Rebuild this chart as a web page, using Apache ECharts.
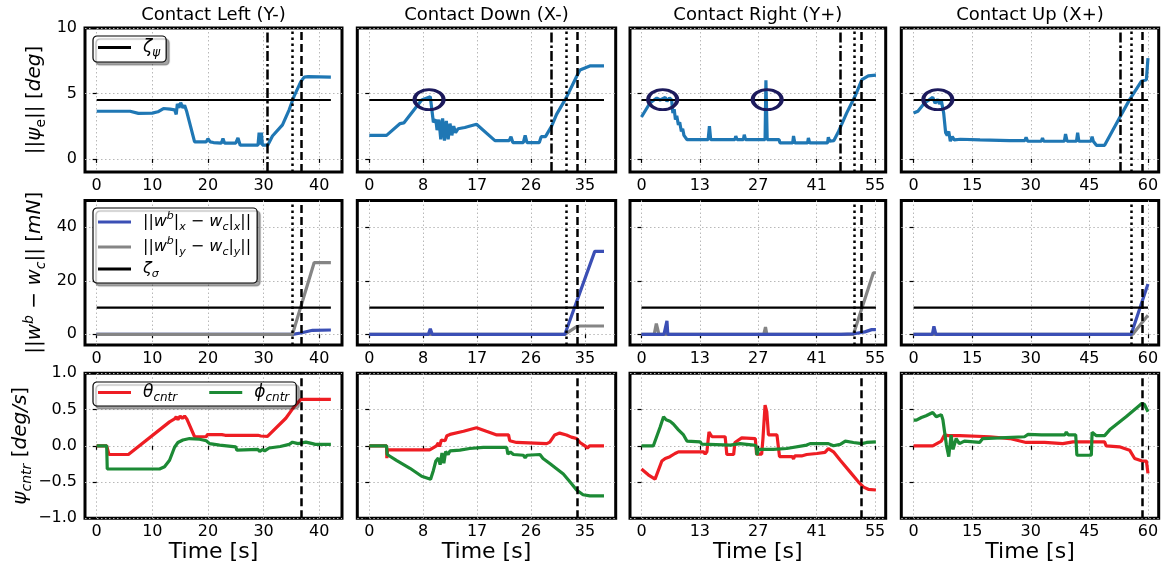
<!DOCTYPE html>
<html><head><meta charset="utf-8">
<script src="https://cdn.jsdelivr.net/npm/echarts@6/dist/echarts.min.js"></script>
<style>html,body{margin:0;padding:0;background:#fff}#c{width:1173px;height:574px}</style>
</head><body><div id="c"></div>
<script>
// ---------------- data ----------------
const colTitles = ['Contact Left (Y-)', 'Contact Down (X-)', 'Contact Right (Y+)', 'Contact Up (X+)'];
const xTicks = [[0,10,20,30,40],[0,8.75,17.5,26.25,35],[0,13.75,27.5,41.25,55],[0,15,30,45,60]];
const xTickLabels = [['0','10','20','30','40'],['0','8','17','26','35'],['0','13','27','41','55'],['0','15','30','45','60']];
const xMin = [-2.1, -1.95, -2.7, -3.15];
const xMax = [44.1, 40.0, 57.5, 62.75];
const yTicks = [[0,5,10],[0,20,40],[-1,-0.5,0,0.5,1]];
const yTickLabels = [['0','5','10'],['0','20','40'],['\u22121.0','\u22120.5','0.0','0.5','1.0']];
const yMin = [-1, -4, -1];
const yMax = [10, 50, 1];
const dataEnd = [42.1, 38.1, 55.2, 60];
const zetaPsi = 4.5;
const zetaSigma = 10;
const vDashDot = [30.75, 29.6, 46.75, 52.8];
const vDotted = [35.1, 31.9, 50.1, 55.6];
const vDashed = [36.8, 33.7, 51.85, 58.5];
const circlesD = [[9.7, 4.53]];
const circlesR = [[5.0, 4.53], [29.6, 4.53]];
const circlesU = [[6.2, 4.53]];

// ||psi_e|| [deg]
const psiL = [[0,3.64],[6,3.64],[7.5,3.48],[10,3.5],[11,3.6],[12,3.85],[13.2,3.8],[14,3.75],[14.3,3.4],[14.5,4.2],[14.8,3.9],[15.1,4.3],[15.5,3.9],[15.8,4.1],[16.2,3.6],[17.6,1.3],[19.7,1.3],[20,1.55],[20.4,1.3],[21,1.25],[21.2,1.2],[22.4,1.2],[22.7,1.55],[23,1.2],[25,1.2],[25.4,1.6],[25.8,1.05],[29,1.05],[29.2,2.0],[29.4,1.1],[29.6,2.0],[29.8,1.05],[30.75,1.05],[31.6,1.75],[33.4,2.6],[34.6,3.75],[35.5,4.8],[36.7,5.9],[37.3,6.25],[38,6.28],[42.1,6.25]];
const psiD = [[0,1.8],[2.8,1.8],[5,2.7],[5.6,2.75],[8.5,4.5],[9.9,4.75],[10.2,4.7],[10.4,2.8],[10.8,3.0],[11.0,2.2],[11.3,3.0],[11.6,1.5],[11.9,3.1],[12.2,1.4],[12.5,2.9],[12.8,1.5],[13.1,2.7],[13.4,1.8],[13.7,2.5],[14.0,2.0],[14.4,2.3],[15.5,2.4],[17.4,2.65],[20.4,1.4],[22.7,1.4],[23.0,1.7],[23.3,1.25],[25.0,1.25],[25.3,1.8],[25.6,1.25],[27.6,1.25],[27.9,1.7],[28.2,1.6],[28.6,1.7],[29.6,2.5],[30.4,3.4],[32,4.7],[33.65,6.3],[34.2,6.8],[35.8,7.1],[38.1,7.1]];
const psiR = [[0,3.2],[2,4.27],[3.6,4.65],[4.4,4.5],[5.6,4.7],[6,4.4],[6.6,4.65],[7.1,4.5],[7.4,3.5],[7.7,3.8],[8.0,3.0],[8.3,3.3],[8.7,2.6],[9.0,2.8],[9.4,2.1],[9.7,2.3],[10.0,1.8],[10.7,1.48],[15.7,1.48],[16.0,2.5],[16.3,1.48],[22,1.48],[22.2,1.75],[22.5,1.48],[24,1.48],[24.2,1.85],[24.5,1.48],[29.1,1.48],[29.3,6.0],[29.6,1.48],[32.4,1.48],[32.6,1.22],[35.6,1.22],[35.8,1.75],[36.1,1.22],[39.1,1.22],[39.3,1.6],[39.6,1.22],[43.8,1.22],[44,1.65],[44.3,1.35],[45.3,1.4],[46.4,2.1],[48.3,3.5],[50.3,4.8],[51.9,6.05],[53.4,6.35],[55.2,6.4]];
const psiU = [[0,3.5],[1.1,3.64],[2.8,4.27],[4.9,4.7],[5.5,4.25],[6.2,4.55],[6.6,4.2],[7.1,4.45],[7.7,3.5],[8.2,2.0],[8.6,1.8],[9.0,2.1],[9.4,1.35],[9.9,1.7],[10.4,1.45],[12,1.5],[17,1.45],[24.6,1.4],[28.5,1.4],[28.8,1.65],[29.2,1.35],[32.7,1.35],[33,1.6],[33.3,1.35],[38.6,1.35],[38.9,1.9],[39.3,1.35],[41.7,1.35],[42,2.0],[42.3,1.35],[45.4,1.35],[45.7,1.7],[46,1.35],[46.8,1.04],[48.9,1.04],[52.7,3.13],[55.3,4.53],[58.3,5.93],[59.6,6.05],[60,7.7]];

// ||w^b - w_c|| [mN]
const wxL = [[0,0],[35.2,0],[36.7,0.5],[38.8,1.5],[42.1,1.6]];
const wyL = [[0,0],[35.2,0],[39.1,26.8],[42.1,26.8]];
const wxD = [[0,0],[9.6,0],[9.9,2.1],[10.2,0],[31.75,0],[36.6,31],[38.1,31]];
const wyD = [[0,0],[31.75,0],[33.6,2.8],[34.2,3.1],[38.1,3.1]];
const wxR = [[0,0],[5.3,0],[6.0,5],[6.2,0],[47,0],[50,0.2],[52.6,0.9],[54.2,1.75],[55.2,1.75]];
const wyR = [[0,0],[3.0,0],[3.5,4],[3.9,4],[4.1,0],[28.8,0],[29.2,2.7],[29.5,0],[49.9,0],[54.6,23],[55.2,23]];
const wxU = [[0,0],[4.8,0],[5.2,3],[5.5,3],[5.7,0],[55.7,0],[60,18.8]];
const wyU = [[0,0],[56.1,0],[60,7.1]];

// psi_cntr [deg/s]
const thL = [[0,0],[1.8,0],[2.2,-0.12],[5.7,-0.12],[13.1,0.33],[14,0.37],[14.3,0.4],[14.6,0.36],[15,0.41],[15.4,0.38],[15.8,0.41],[16.2,0.37],[17.6,0.125],[19.7,0.125],[19.9,0.155],[22.5,0.155],[22.8,0.165],[23.1,0.145],[29,0.145],[29.2,0.17],[29.5,0.135],[30.7,0.13],[34,0.38],[35.5,0.54],[36.7,0.64],[42.1,0.64]];
const phL = [[0,0],[1.8,0],[1.9,-0.32],[11.3,-0.32],[12.2,-0.29],[13.1,-0.2],[14,-0.02],[14.6,0.045],[15.5,0.08],[16.7,0.1],[18.5,0.09],[19.7,0.07],[20.3,0.03],[22.1,0.01],[22.4,-0.015],[25,-0.015],[25.2,-0.06],[29,-0.05],[29.3,-0.08],[29.8,-0.05],[30.2,-0.07],[31,-0.03],[33,-0.01],[34.6,0.02],[35.2,0.05],[36.2,0.03],[37.6,0.05],[38.8,0.03],[39.3,0.02],[42.1,0.02]];
const thD = [[0,0],[2.8,0],[2.85,-0.17],[2.95,-0.055],[9.8,-0.055],[10.9,0],[11.2,0.04],[11.4,-0.01],[11.7,0.08],[12,0.1],[12.3,0.07],[12.6,0.14],[13.1,0.157],[15.3,0.2],[17.4,0.25],[19,0.2],[20.7,0.15],[22.6,0.15],[22.8,0.07],[23.9,0.046],[28.8,0.03],[29.3,0.05],[30.1,0.15],[30.9,0.175],[32,0.15],[32.8,0.12],[33.65,0.1],[34.2,0.046],[35,0],[35.4,-0.03],[35.8,0],[38.1,0]];
const phD = [[0,0],[2.8,0],[2.9,-0.12],[4.4,-0.2],[6.6,-0.31],[8.5,-0.42],[9.95,-0.46],[10.4,-0.34],[10.8,-0.21],[11.2,-0.17],[11.5,-0.26],[11.8,-0.1],[12.1,-0.24],[12.4,-0.08],[12.8,-0.12],[13.1,-0.07],[14.7,-0.06],[16.3,-0.037],[18.5,-0.023],[22.3,-0.023],[22.5,-0.115],[22.9,-0.085],[23.4,-0.12],[25,-0.13],[25.3,-0.165],[25.6,-0.13],[27.7,-0.12],[28.2,-0.175],[29.3,-0.245],[31.5,-0.39],[32.8,-0.52],[33.65,-0.61],[34.7,-0.675],[35.8,-0.69],[38.1,-0.69]];
const thR = [[0,-0.32],[1.6,-0.4],[3.2,-0.46],[3.6,-0.44],[4.8,-0.21],[5.6,-0.175],[6.7,-0.15],[7.9,-0.106],[8.7,-0.083],[14.6,-0.083],[15,-0.115],[15.4,-0.083],[15.9,0.19],[16.6,0.125],[19.7,0.125],[20.1,-0.12],[21.7,-0.12],[22,0.046],[23.6,0.11],[26.8,0.1],[27.1,-0.115],[28.3,-0.115],[28.6,0.1],[29.1,0.56],[29.5,0.47],[29.9,0.15],[31.9,0.15],[32.5,-0.15],[35.5,-0.15],[35.8,-0.18],[36.1,-0.14],[37.7,-0.14],[38.9,-0.12],[41.3,-0.106],[43.2,-0.09],[44,-0.04],[45.2,-0.083],[46.8,-0.2],[49.1,-0.36],[51.1,-0.5],[52.3,-0.57],[53.4,-0.6],[55.2,-0.61]];
const phR = [[0,0],[2.8,0],[4.4,0.26],[5.2,0.4],[5.8,0.36],[6.7,0.34],[7.5,0.3],[8.7,0.22],[9.9,0.15],[10.7,0.065],[13.8,0.055],[14.2,0.023],[20.9,0.01],[23.2,0.03],[26.4,0.01],[27,0],[27.2,-0.13],[27.5,-0.05],[31,-0.05],[34.2,-0.037],[38.9,0.01],[39.7,0.03],[44,0.03],[45.2,0],[46.8,0.02],[48,0.065],[49.9,0.046],[51.9,0.03],[53,0.046],[55.2,0.055]];
const thU = [[0,0],[4.9,0],[7.1,0.065],[7.9,0.15],[8.8,0.14],[11.8,0.14],[19.5,0.125],[24.6,0.1],[28.8,0.046],[33.5,0.046],[33.8,0.03],[38.2,0.03],[40.8,0.055],[48.9,0.055],[49.3,0],[52.7,-0.014],[55.3,-0.06],[56.6,-0.175],[58.5,-0.21],[59.6,-0.21],[60,-0.38]];
const phU = [[0,0.355],[0.7,0.355],[2,0.39],[3.2,0.415],[4.9,0.46],[5.8,0.4],[7.1,0.43],[7.5,0.36],[8.4,0.01],[9,-0.15],[9.6,0.15],[10.1,-0.05],[10.9,0.1],[11.7,0.03],[13,0.065],[16.9,0.046],[17.7,0.1],[22,0.11],[28.4,0.125],[29.3,0.157],[29.8,0.14],[32.7,0.15],[38.7,0.15],[39.1,0.19],[39.6,0.15],[41.5,0.15],[41.8,-0.13],[45.5,-0.13],[45.7,0.185],[46.8,0.14],[48.9,0.14],[50.2,0.22],[54.4,0.4],[58.5,0.586],[59.1,0.57],[60,0.47]];

const psiSeries = [psiL, psiD, psiR, psiU];
const wxSeries = [wxL, wxD, wxR, wxU];
const wySeries = [wyL, wyD, wyR, wyU];
const thSeries = [thL, thD, thR, thU];
const phSeries = [phL, phD, phR, phU];
const circleSeries = [[], circlesD, circlesR, circlesU];

// ---------------- layout / style ----------------
const FONT = 'DejaVu Sans';
const gridLeft = [85, 357.3, 630, 901.3];
const gridWidth = [257, 258.4, 255.7, 257.4];
const gridTop = [28, 200.5, 373.3];
const gridHeight = [144, 144.5, 145];
const C_BLUE = '#1f77b4', C_BLUE2 = '#3b4fb5', C_GRAY = '#858585', C_RED = '#ee1d23', C_GREEN = '#1c8a35', C_NAVY = '#1c1a5c';
const DASHDOT = [10, 3, 2.5, 3], DOTTED = [2.5, 3.5], DASHED = [8, 4];

const richBase = (fs) => ({
  n: {fontSize: fs, fontFamily: FONT, lineHeight: fs + 6, color: '#000'},
  i: {fontSize: fs, fontFamily: FONT, fontStyle: 'italic', lineHeight: fs + 6, color: '#000'},
  sub: {fontSize: Math.round(fs * 0.7), fontFamily: FONT, fontStyle: 'italic', verticalAlign: 'bottom', lineHeight: Math.round(fs * 0.75), color: '#000'},
  subn: {fontSize: Math.round(fs * 0.7), fontFamily: FONT, verticalAlign: 'bottom', lineHeight: Math.round(fs * 0.75), color: '#000'},
  sup: {fontSize: Math.round(fs * 0.7), fontFamily: FONT, fontStyle: 'italic', verticalAlign: 'top', lineHeight: Math.round(fs * 0.75), color: '#000'},
  gap: {width: 7, fontSize: fs}
});

const yNames = [
  '{n|||}{i|\u03c8}{subn|e}{n||| [}{i|deg}{n|]}',
  '{n|||}{i|w}{sup|b}{n| \u2212 }{i|w}{sub|c}{n||| [}{i|mN}{n|]}',
  '{i|\u03c8}{sub|cntr}{n| [}{i|deg/s}{n|]}'
];
const yNameGap = [37, 37, 51];

const legendText = {
  zpsi: '{gap| }{i|\u03b6}{sub|\u03c8}',
  wx: '{gap| }{n|||}{i|w}{sup|b}{n||}{sub|x}{n| \u2212 }{i|w}{sub|c}{n||}{sub|x}{n|||}',
  wy: '{gap| }{n|||}{i|w}{sup|b}{n||}{sub|y}{n| \u2212 }{i|w}{sub|c}{n||}{sub|y}{n|||}',
  zsig: '{gap| }{i|\u03b6}{sub|\u03c3}',
  th: '{gap| }{i|\u03b8}{sub|cntr}',
  ph: '{gap| }{i|\u03d5}{sub|cntr}'
};

const grids = [], xAxes = [], yAxes = [], series = [];

function labelFor(list, vals, v) {
  for (let k = 0; k < vals.length; k++) if (Math.abs(vals[k] - v) < 1e-6) return list[k];
  return '';
}
function vmark(list) {
  return {
    silent: true, symbol: ['none', 'none'], label: {show: false},
    lineStyle: {color: '#000', width: 2.5},
    emphasis: {disabled: true},
    data: list
  };
}
function lineSeries(name, g, data, color, width, z, extra) {
  return Object.assign({
    name, type: 'line', xAxisIndex: g, yAxisIndex: g, data, color,
    showSymbol: false, symbol: 'none', z: z || 2,
    lineStyle: {color, width: width || 3},
    emphasis: {disabled: true}
  }, extra || {});
}

for (let r = 0; r < 3; r++) {
  for (let c = 0; c < 4; c++) {
    const g = r * 4 + c;
    grids.push({left: gridLeft[c], top: gridTop[r], width: gridWidth[c], height: gridHeight[r],
      show: true, borderColor: '#000', borderWidth: 3, backgroundColor: 'transparent', containLabel: false});
    xAxes.push({
      type: 'value', gridIndex: g, min: xMin[c], max: xMax[c],
      axisLine: {show: false},
      axisTick: {show: true, customValues: xTicks[c], length: 4, lineStyle: {color: '#000', width: 1.2}},
      axisLabel: {show: true, customValues: xTicks[c], fontSize: 16, fontFamily: FONT, color: '#000', margin: 6,
        formatter: (v) => labelFor(xTickLabels[c], xTicks[c], v)},
      splitLine: {show: true, lineStyle: {type: [1.5, 2.5], color: '#b8b8b8', width: 1}},
      name: r === 2 ? 'Time [s]' : '', nameLocation: 'middle', nameGap: 23,
      nameTextStyle: {fontSize: 22, fontFamily: FONT, color: '#000', verticalAlign: 'top'}
    });
    yAxes.push({
      type: 'value', gridIndex: g, min: yMin[r], max: yMax[r],
      axisLine: {show: false},
      axisTick: {show: true, customValues: yTicks[r], length: 4, lineStyle: {color: '#000', width: 1.2}},
      axisLabel: {show: c === 0, customValues: yTicks[r], fontSize: 16, fontFamily: FONT, color: '#000', margin: 8,
        formatter: (v) => labelFor(yTickLabels[r], yTicks[r], v)},
      splitLine: {show: true, lineStyle: {type: [1.5, 2.5], color: '#b8b8b8', width: 1}},
      name: c === 0 ? yNames[r] : '', nameLocation: 'middle', nameGap: yNameGap[r], nameRotate: 90,
      nameTextStyle: {fontSize: 20, fontFamily: FONT, color: '#000', rich: richBase(20)}
    });

    if (r === 0) {
      series.push(lineSeries('psi' + c, g, psiSeries[c], C_BLUE, 3.2, 2));
      series.push(lineSeries(c === 0 ? 'zpsi' : 'zpsi' + c, g, [[0, zetaPsi], [dataEnd[c], zetaPsi]], '#000', 2.2, 3, {
        markLine: vmark([
          {xAxis: vDashDot[c], lineStyle: {type: DASHDOT}},
          {xAxis: vDotted[c], lineStyle: {type: DOTTED}},
          {xAxis: vDashed[c], lineStyle: {type: DASHED}}
        ])
      }));
      if (circleSeries[c].length) {
        series.push({type: 'scatter', xAxisIndex: g, yAxisIndex: g, data: circleSeries[c], symbol: 'circle',
          symbolSize: [29, 20], z: 5, silent: true,
          itemStyle: {color: 'rgba(0,0,0,0)', borderColor: C_NAVY, borderWidth: 3.5, opacity: 1}});
      }
    } else if (r === 1) {
      const wx = lineSeries(c === 0 ? 'wx' : 'wx' + c, g, wxSeries[c], C_BLUE2, 3.2, c === 0 ? 2 : 3);
      const wy = lineSeries(c === 0 ? 'wy' : 'wy' + c, g, wySeries[c], C_GRAY, 3.2, c === 0 ? 3 : 2);
      series.push(wx, wy);
      series.push(lineSeries(c === 0 ? 'zsig' : 'zsig' + c, g, [[0, zetaSigma], [dataEnd[c], zetaSigma]], '#000', 2.2, 4, {
        markLine: vmark([
          {xAxis: vDotted[c], lineStyle: {type: DOTTED}},
          {xAxis: vDashed[c], lineStyle: {type: DASHED}}
        ])
      }));
    } else {
      series.push(lineSeries(c === 0 ? 'th' : 'th' + c, g, thSeries[c], C_RED, 3.2, 2));
      series.push(lineSeries(c === 0 ? 'ph' : 'ph' + c, g, phSeries[c], C_GREEN, 3.2, 3, {
        markLine: vmark([{xAxis: vDashed[c], lineStyle: {type: DASHED}}])
      }));
    }
  }
}

const legendCommon = {
  backgroundColor: '#fff', borderColor: '#000', borderWidth: 1.2, borderRadius: 4,
  shadowColor: 'rgba(0,0,0,0.35)', shadowBlur: 1, shadowOffsetX: 3, shadowOffsetY: 3,
  itemWidth: 33, itemHeight: 3, icon: 'rect', selectedMode: false,
  itemStyle: {borderWidth: 0},
  formatter: (name) => legendText[name],
  textStyle: {fontSize: 17, fontFamily: FONT, color: '#000', rich: richBase(17)}
};
const legends = [
  Object.assign({}, legendCommon, {left: 93, top: 36, orient: 'vertical', padding: [3, 6, 3, 5], data: ['zpsi']}),
  Object.assign({}, legendCommon, {left: 93, top: 208, orient: 'vertical', padding: [3, 6, 3, 5], itemGap: 3,
    textStyle: {fontSize: 16, fontFamily: FONT, color: '#000', rich: richBase(16)}, data: ['wx', 'wy', 'zsig']}),
  Object.assign({}, legendCommon, {left: 93, top: 382, orient: 'horizontal', padding: [2, 7, 2, 5], itemGap: 32, data: ['th', 'ph']})
];

const graphics = colTitles.map((t, c) => ({
  type: 'text', x: gridLeft[c] + gridWidth[c] / 2, y: 15, silent: true,
  style: {text: t, fontSize: 18, fontFamily: FONT, fill: '#000', align: 'center', verticalAlign: 'middle'}
}));

const chart = echarts.init(document.getElementById('c'), null, {renderer: 'canvas'});
chart.setOption({
  animation: false,
  backgroundColor: '#fff',
  textStyle: {fontFamily: FONT},
  grid: grids, xAxis: xAxes, yAxis: yAxes, series: series,
  legend: legends, graphic: graphics
});
</script></body></html>
